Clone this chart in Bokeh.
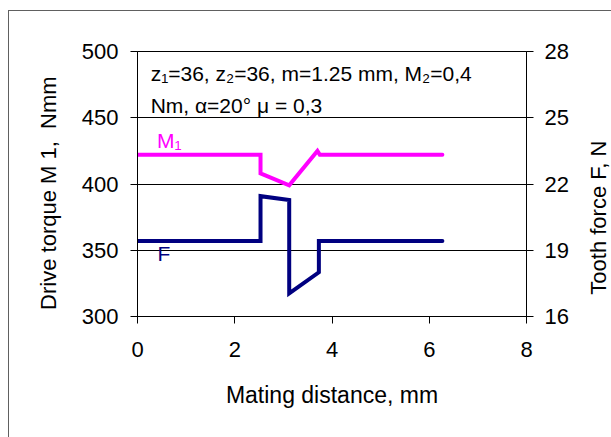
import math
from bokeh.plotting import figure
from bokeh.layouts import row
from bokeh.models import Range1d, LinearAxis, Label, FixedTicker
from bokeh.core.properties import value
from bokeh.embed import file_html
from bokeh.resources import INLINE

# ---- data ----
x_m1 = [0.0, 2.53, 2.53, 3.12, 3.70, 3.75, 6.27]
m1 = [422, 422, 408, 399, 425, 422, 422]          # Drive torque M1, Nmm (left axis)

x_f = [0.0, 2.53, 2.53, 3.12, 3.12, 3.73, 3.73, 6.27]
f = [19.42, 19.42, 21.45, 21.28, 17.05, 18.0, 19.42, 19.42]  # Tooth force F, N (right axis)

x_ticks = [0, 2, 4, 6, 8]
left_ticks = [300, 350, 400, 450, 500]
right_ticks = [16, 19, 22, 25, 28]

FONT = "Liberation Sans"
NB = "\u00a0"

p = figure(frame_width=389, frame_height=265, output_backend="svg", toolbar_location=None,
           x_range=Range1d(0, 8), y_range=Range1d(300, 500),
           min_border_left=128, min_border_right=45, min_border_top=40, min_border_bottom=121,
           background_fill_color="white", border_fill_color="white")
p.extra_y_ranges = {"F": Range1d(16, 28)}

p.outline_line_color = "black"
p.outline_line_width = 1
p.xgrid.visible = False
p.ygrid.grid_line_color = "black"
p.ygrid.grid_line_width = 1
p.ygrid.ticker = FixedTicker(ticks=left_ticks)

for ax in (p.xaxis[0], p.yaxis[0]):
    ax.major_label_text_font = FONT
    ax.major_label_text_font_size = "22px"
    ax.major_label_text_color = "black"
    ax.axis_label_text_font = FONT
    ax.axis_label_text_font_size = "22px"
    ax.axis_label_text_font_style = "normal"
    ax.axis_label_text_color = "black"
    ax.axis_line_color = "black"
    ax.major_tick_line_color = "black"
    ax.minor_tick_line_color = None
    ax.major_tick_in = 0
    ax.major_tick_out = 7

p.xaxis.ticker = FixedTicker(ticks=x_ticks)
p.xaxis.axis_label = "Mating distance, mm"
p.xaxis.axis_label_text_font_size = "23px"
p.xaxis.major_label_standoff = 18
p.xaxis.axis_label_standoff = 22

p.yaxis.ticker = FixedTicker(ticks=left_ticks)
p.yaxis.axis_label = "Drive torque M 1," + NB + " Nmm" + NB * 3
p.yaxis.major_label_standoff = 12
p.yaxis.axis_label_standoff = 18

rax = LinearAxis(y_range_name="F", ticker=FixedTicker(ticks=right_ticks))
rax.major_label_text_font = FONT
rax.major_label_text_font_size = "22px"
rax.major_label_text_color = "black"
rax.axis_line_color = "black"
rax.major_tick_line_color = "black"
rax.minor_tick_line_color = None
rax.major_tick_in = 0
rax.major_tick_out = 7
rax.major_label_standoff = 11
p.add_layout(rax, "right")

p.line(x_m1, m1, line_color="#FF00FF", line_width=4, line_join="miter", line_cap="round")
p.line(x_f, f, line_color="#000080", line_width=4, line_join="miter", line_cap="round",
       y_range_name="F")

# annotation text
p.add_layout(Label(x=0.27, y=483.5, text="z\u2081=36, z\u2082=36, m=1.25 mm, M\u2082=0,4",
                   text_font=FONT, text_font_size="21px", text_color="black",
                   text_baseline="alphabetic"))
p.add_layout(Label(x=0.27, y=459, text="Nm, \u03b1=20\u00b0 \u03bc = 0,3",
                   text_font=FONT, text_font_size="21px", text_color="black",
                   text_baseline="alphabetic"))

# series labels
p.add_layout(Label(x=0.40, y=432.5, text="M\u2081", text_font=FONT, text_font_size="21px",
                   text_color="#FF00FF", text_baseline="alphabetic"))
p.add_layout(Label(x=0.41, y=347.5, text="F", text_font=FONT, text_font_size="21px",
                   text_color="#000080", text_baseline="alphabetic"))

# narrow companion panel holding the right-axis title (reads bottom-to-top)
p2 = figure(frame_width=40, frame_height=265, output_backend="svg", toolbar_location=None,
            x_range=Range1d(0, 1), y_range=Range1d(300, 500),
            min_border_left=0, min_border_right=0, min_border_top=40, min_border_bottom=121,
            background_fill_color="white", border_fill_color="white")
p2.axis.visible = False
p2.grid.visible = False
p2.outline_line_color = None
p2.text(x=[0.675], y=[374.6], text=["Tooth force F, N"], angle=math.pi / 2,
        text_align="center", text_baseline="middle", text_font=value(FONT),
        text_font_size="22px", text_color="black")

layout = row(p, p2, spacing=0, margin=(10, 0, 0, 8),
             styles={"border-left": "1px solid #606060", "border-top": "1px solid #606060"})

open("out.html", "w").write(file_html(layout, INLINE))
